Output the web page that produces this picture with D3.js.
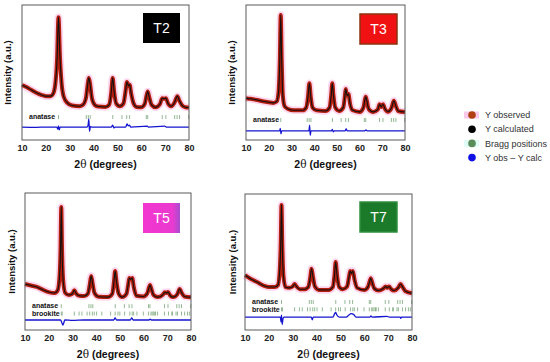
<!DOCTYPE html>
<html>
<head>
<meta charset="utf-8">
<script src="https://cdn.jsdelivr.net/npm/d3@7"></script>
<style>
  body { margin: 0; background: #fff; }
  svg { display: block; font-family: Arial, "Liberation Sans", sans-serif; }
</style>
</head>
<body>
<svg id="chart" width="550" height="362"></svg>
<script>
////////////////////////////  DATA  ////////////////////////////
var thetaTicks = [10, 20, 30, 40, 50, 60, 70, 80];
var sampleNames = ["T2", "T3", "T5", "T7"];
var legendLabels = ["Y observed", "Y calculated", "Bragg positions", "Y obs \u2013 Y calc"];

// [2theta, intensity] - intensity in % of panel height
var profileT2 = [[10,40.7],[12,39],[14,37],[16,35],[18,33.5],[20,32.5],[22,32.5],[23,34],[24,42],[24.7,60],[25.3,91],[25.9,62],[26.6,42],[27.5,32],[29,27.5],[31,25.5],[34,25],[35.5,26],[36.8,31],[37.6,42],[38,46],[38.5,42],[39.3,31],[40.5,26],[42,24.8],[45,24.5],[46.5,26],[47.4,35],[48,46],[48.6,36],[49.5,27],[51,25],[52.5,27],[53.4,36],[54,43],[54.6,40],[55.1,41],[55.8,34],[56.8,27],[58,24.5],[60,24.3],[61.5,27],[62.2,33],[62.7,36],[63.3,32],[64.3,26],[66,24.2],[67.8,26.5],[68.8,31],[69.5,30.5],[70.3,31],[71.2,27],[72.5,25],[74,28],[75.1,32.5],[76,29],[77.2,25.5],[78.5,24.3],[80,24]];
var profileT3 = [[10,31],[12,30.5],[15,29.6],[18,28.5],[20,28],[22,27.5],[23.5,28.5],[24.3,35],[24.9,60],[25.3,92.6],[25.7,60],[26.2,33],[27,25],[28.5,23],[31,22],[35,22],[36.5,24],[37.3,32],[37.9,42],[38.5,32],[39.3,24],[41,22],[45,21.5],[46.8,24],[47.5,33],[48,42],[48.5,33],[49.3,24],[51,21.5],[52.8,24],[53.5,32],[53.9,37.8],[54.5,33],[55.1,34],[55.8,27],[57,22],[60,20.8],[61.7,24],[62.3,29.5],[62.7,32],[63.2,29],[64,23],[66,20.8],[68,22.5],[68.8,26.5],[69.5,24.5],[70.3,26.5],[71.2,23],[72.5,21],[74,23.5],[75.1,29],[76,25],[77,21.5],[80,20.7]];
var profileT5 = [[10,33.6],[12.5,32.5],[15,31.4],[18,29],[20,27.7],[22.5,27],[23.8,29],[24.6,40],[25,60],[25.3,89.8],[25.6,60],[26.1,36],[27,27],[28.5,25.5],[30,26.5],[30.8,29],[31.6,26.5],[33,25],[35,24.8],[36.5,26.5],[37.3,33],[37.9,39.4],[38.5,34],[39.3,27],[41,24.3],[45,24],[46.8,26.5],[47.5,35],[48,43],[48.6,35],[49.5,26.5],[51,24],[52.8,26.5],[53.5,33],[54,38],[54.6,37],[55.2,38],[55.9,31],[57,25],[60,24.5],[61.5,26.5],[62.3,31],[62.7,32.8],[63.2,30.5],[64.2,25.5],[66,24],[68,25.5],[69,27.5],[69.6,27],[70.3,27.7],[71.3,25],[72.5,24],[74.2,26],[75.2,30],[76.1,27],[77.2,24.5],[80,23.9]];
var profileT7 = [[10,40.4],[12.5,37.5],[15,35.3],[18,32.5],[20,31.6],[22.5,31.6],[23.8,33],[24.6,45],[25,65],[25.3,92],[25.6,65],[26.1,40],[27,31.5],[28.5,31],[30,32],[30.8,33.8],[31.6,32],[33,30],[35,30],[36.5,31.5],[37.3,38],[37.9,45],[38.5,39],[39.3,32],[41,29.5],[45,29.4],[46.8,31.5],[47.5,40],[48,50],[48.6,40],[49.5,31.5],[51,30],[52.8,32],[53.6,39],[54.1,43.4],[54.6,41.5],[55.2,43.4],[55.9,37],[57,31],[60,29.4],[61.5,31.5],[62.3,36],[62.7,38],[63.2,35.5],[64.2,30.5],[66,29],[68,30.5],[69,32],[69.6,31],[70.4,32],[71.3,30],[72.5,29],[74.2,31],[75.2,33.8],[76.1,31.5],[77.3,28.5],[80,27]];

// difference curves (Y obs - Y calc), already offset below the pattern
var diffT2 = [[10,9.6],[16,9.4],[20,9.6],[24.6,9.6],[25,8],[25.3,10.5],[25.6,7.5],[26,9.6],[37.3,9.6],[37.7,11],[38,15.5],[38.3,6.5],[38.7,10],[39.2,9.6],[47.5,9.6],[48,11],[48.5,9],[49,9.6],[53.5,9.6],[54,12],[54.5,10.5],[55,11],[55.6,9.6],[62.5,10.3],[63,9.6],[69.8,10.3],[70.5,9.6],[80,9.6]];
var diffT3 = [[10,6.7],[20,6.7],[24.8,6.7],[25.1,8.5],[25.4,4.5],[25.7,6.7],[37.7,6.7],[38,11],[38.3,3.5],[38.6,6.7],[47.6,6.7],[48,7.8],[48.4,6],[48.8,6.7],[53.6,6.7],[54.1,8.2],[54.6,6.7],[62.3,6.7],[62.8,7.5],[63.3,6.7],[80,6.7]];
var diffT5 = [[10,7.3],[20,7.3],[25,7.3],[25.5,5.5],[26,3.5],[26.4,5.5],[26.8,7.3],[30,7],[35,7.3],[47.4,7.3],[48,8.8],[48.6,7.3],[54.4,7.3],[55,8.8],[55.6,7.3],[62.3,7.3],[62.8,8],[63.3,7.3],[80,7.3]];
var diffT7 = [[10,9.5],[20,9.5],[24.8,9.5],[25.1,6],[25.3,11],[25.6,4],[25.9,8],[26.3,9.5],[37.8,9.5],[38.2,7.5],[38.6,9.5],[46.8,9.5],[47.6,12],[48,13],[48.5,11],[49.5,9.5],[52.5,9.5],[53.5,11],[54.5,12],[55.5,11.5],[56.5,9.5],[62.3,9.5],[62.8,10.3],[63.3,9.5],[69.5,10],[70.5,9.5],[75,9.5],[75.3,8.5],[75.6,9.5],[80,9.5]];

// Bragg reflection positions (2theta)
var anatasePeaks = [25.3, 36.95, 37.8, 38.6, 48.05, 51.9, 53.9, 55.1, 62.1, 62.7, 68.8, 70.3, 74.0, 75.0, 76.0, 79.9];
var brookitePeaks = [25.3, 25.7, 30.8, 32.8, 34.0, 36.2, 37.3, 38.4, 39.2, 40.2, 42.4, 46.1, 48.0, 49.2, 50.0, 52.0, 54.2, 55.2, 55.8, 57.2, 59.9, 62.1, 63.1, 63.6, 64.1, 64.7, 65.0, 65.9, 68.8, 70.5, 71.9, 72.2, 73.7, 74.3, 76.0, 77.3, 78.5, 79.3];

var phasePeaks = { anatase: anatasePeaks, brookite: brookitePeaks };
var profiles = [profileT2, profileT3, profileT5, profileT7];
var diffs = [diffT2, diffT3, diffT5, diffT7];

////////////////////////////  LAYOUT  ////////////////////////////
var layout = [
  { left: 22,  right: 189, top: 5,   bottom: 140, ylab: 8,   phases: ["anatase"], rows: [17],
    badge: { x: 143, y: 13, fill: "#000000", stroke: "none" } },
  { left: 246, right: 405, top: 5,   bottom: 140, ylab: 232, phases: ["anatase"], rows: [14.8],
    badge: { x: 360, y: 14, fill: "#f01212", stroke: "#8a3512" } },
  { left: 25,  right: 191, top: 193, bottom: 330, ylab: 12,  phases: ["anatase", "brookite"], rows: [17.4, 12.0],
    badge: { x: 143, y: 203, fill: "url(#magenta)", stroke: "none" } },
  { left: 245, right: 412, top: 194, bottom: 330, ylab: 233, phases: ["anatase", "brookite"], rows: [20.6, 15.2],
    badge: { x: 360, y: 202, fill: "#1b7a2a", stroke: "#2f8f3f" } }
];

var obsColor = "#b41e0e";
var haloColor = "#fcd6ee";
var diffColor = "#1515d0";
var braggColor = "#7aa67a";

var svg = d3.select("#chart");

var defs = svg.append("defs");
var grad = defs.append("linearGradient").attr("id", "magenta");
grad.append("stop").attr("offset", "0%").attr("stop-color", "#f236cf");
grad.append("stop").attr("offset", "80%").attr("stop-color", "#ea3acf");
grad.append("stop").attr("offset", "100%").attr("stop-color", "#a54fd0");

svg.append("rect").attr("width", 550).attr("height", 362).attr("fill", "#fff");

sampleNames.forEach(function(name, i) {
  createPanel(name, profiles[i], diffs[i], layout[i]);
});
createLegend();

function createPanel(name, profile, diff, L) {
  var x = d3.scaleLinear().domain([10, 80]).range([L.left, L.right]);
  var y = d3.scaleLinear().domain([0, 100]).range([L.bottom, L.top]);

  var g = svg.append("g");

  var line = d3.line()
    .x(function(d) { return x(d[0]); })
    .y(function(d) { return y(d[1]); })
    .curve(d3.curveMonotoneX);

  // observed (thick red with pink glow) and calculated (black)
  g.append("path").attr("d", line(profile))
    .attr("fill", "none").attr("stroke", haloColor).attr("stroke-width", 7.5)
    .attr("stroke-linejoin", "round");
  g.append("path").attr("d", line(profile))
    .attr("fill", "none").attr("stroke", obsColor).attr("stroke-width", 4)
    .attr("stroke-linejoin", "round");
  g.append("path").attr("d", line(profile))
    .attr("fill", "none").attr("stroke", "#111").attr("stroke-width", 1.1)
    .attr("stroke-linejoin", "round");

  // Bragg positions rows
  L.phases.forEach(function(ph, k) {
    var ry = y(L.rows[k]);
    g.selectAll(null)
      .data(phasePeaks[ph])
      .enter()
      .append("line")
      .attr("x1", function(d) { return x(d); })
      .attr("x2", function(d) { return x(d); })
      .attr("y1", ry - 2)
      .attr("y2", ry + 2)
      .attr("stroke", braggColor)
      .attr("stroke-width", 0.8);

    g.append("text")
      .attr("x", L.left + 7).attr("y", ry)
      .attr("dy", "0.33em")
      .attr("font-size", 7).attr("font-weight", "bold").attr("fill", "#111")
      .text(ph);
  });

  // difference curve
  g.append("path").attr("d", line(diff))
    .attr("fill", "none").attr("stroke", diffColor).attr("stroke-width", 1.3);

  // frame
  g.append("rect")
    .attr("x", L.left).attr("y", L.top)
    .attr("width", L.right - L.left).attr("height", L.bottom - L.top)
    .attr("fill", "none").attr("stroke", "#5a5a5a").attr("stroke-width", 1);

  // x axis labels
  var ax = g.append("g")
    .attr("transform", "translate(0," + L.bottom + ")")
    .call(d3.axisBottom(x).tickValues(thetaTicks).tickSize(0).tickPadding(5).tickFormat(d3.format("d")));
  ax.select(".domain").remove();
  ax.selectAll("text")
    .attr("font-size", 9).attr("font-weight", "bold").attr("fill", "#222")
    .attr("font-family", "Arial, 'Liberation Sans', sans-serif");

  var title = g.append("text")
    .attr("x", (L.left + L.right) / 2).attr("y", L.bottom + 28)
    .attr("text-anchor", "middle")
    .attr("font-size", 10.5).attr("font-weight", "bold").attr("fill", "#111");
  title.append("tspan").text("2");
  title.append("tspan").attr("font-family", "'DejaVu Serif', serif").attr("font-weight", "normal").text("\u03b8");
  title.append("tspan").text(" (degrees)");

  g.append("text")
    .attr("transform", "translate(" + L.ylab + "," + ((L.top + L.bottom) / 2) + ") rotate(-90)")
    .attr("text-anchor", "middle").attr("dy", "0.35em")
    .attr("font-size", 9.5).attr("font-weight", "bold").attr("fill", "#111")
    .text("Intensity (a.u.)");

  // sample badge
  var b = L.badge;
  g.append("rect")
    .attr("x", b.x).attr("y", b.y).attr("width", 37).attr("height", 30)
    .attr("fill", b.fill)
    .attr("stroke", b.stroke).attr("stroke-width", b.stroke == "none" ? 0 : 1.5);
  g.append("text")
    .attr("x", b.x + 18.5).attr("y", b.y + 15)
    .attr("dy", "0.36em").attr("text-anchor", "middle")
    .attr("font-size", 14).attr("fill", "#fff")
    .text(name);
}

function createLegend() {
  var colors = ["#b04012", "#000000", "#5a8c5a", "#1010e6"];
  var bgs = ["#f9c9e9", null, "#dffcf5", null];
  var lg = svg.append("g").attr("transform", "translate(472,115)");

  var item = lg.selectAll("g")
    .data(legendLabels)
    .enter()
    .append("g")
    .attr("transform", function(d, i) { return "translate(0," + (i * 14.2) + ")"; });

  item.filter(function(d, i) { return bgs[i]; })
    .append("rect")
    .attr("x", -8).attr("y", -3.5).attr("width", 15).attr("height", 7)
    .attr("fill", function(d) { return bgs[legendLabels.indexOf(d)]; });

  item.append("circle")
    .attr("r", 3.8)
    .attr("fill", function(d, i) { return colors[i]; });

  item.append("text")
    .attr("x", 13).attr("dy", "0.35em")
    .attr("font-size", 9).attr("fill", "#333")
    .text(function(d) { return d; });
}
</script>
</body>
</html>
